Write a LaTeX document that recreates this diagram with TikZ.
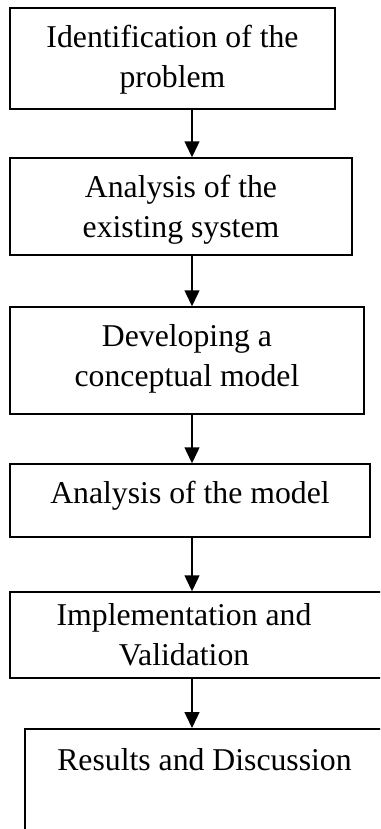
\documentclass[tikz,border=0pt]{standalone}
\usepackage{fontspec}
\setmainfont{Liberation Serif}
\usetikzlibrary{arrows.meta,fit}

\begin{document}
\begin{tikzpicture}[
    x=0.75pt, y=-0.75pt,
    every node/.style={align=center},
    stage box/.style={draw, inner sep=0pt, line width=1pt},
    stage text/.style={anchor=base, inner sep=0pt, font=\fontsize{23.8pt}{30pt}\selectfont},
    flow arrow/.style={draw, line width=1.7pt, -{Triangle[length=12pt, width=11pt]}},
    ]
\useasboundingbox (0,0) rectangle (380,829);
\clip (0,0) rectangle (380,829);
\coordinate (spine) at (192,0);
\node[stage box, line width=2.2pt, fit={(10,8) (335,109)}] (identBox) {};
\node[stage box, fit={(10,158) (352,255)}] (systemBox) {};
\node[stage box, fit={(10,307) (364,414)}] (conceptBox) {};
\node[stage box, fit={(10,464) (370,537)}] (modelBox) {};
\node[stage box, fit={(10,592) (400,678)}] (implBox) {};
\node[stage box, line width=1.4pt, fit={(25,729) (420,900)}] (resultsBox) {};
% base of a two-line text is its last line
\node[stage text] (ident) at (172.5,87) {Identification of the\\problem};
\node[stage text] (system) at (181,237) {Analysis of the\\existing system};
\node[stage text] (concept) at (187,386) {Developing a\\conceptual model};
\node[stage text] (model) at (190,503) {Analysis of the model};
\node[stage text] (impl) at (184,665) {Implementation and\\Validation};
\node[stage text] (results) at (204.5,770) {Results and Discussion};
\draw[flow arrow] (identBox.south -| spine) -- (systemBox.north -| spine);
\draw[flow arrow] (systemBox.south -| spine) -- (conceptBox.north -| spine);
\draw[flow arrow] (conceptBox.south -| spine) -- (modelBox.north -| spine);
\draw[flow arrow] (modelBox.south -| spine) -- (implBox.north -| spine);
\draw[flow arrow] (implBox.south -| spine) -- (resultsBox.north -| spine);
\end{tikzpicture}
\end{document}
